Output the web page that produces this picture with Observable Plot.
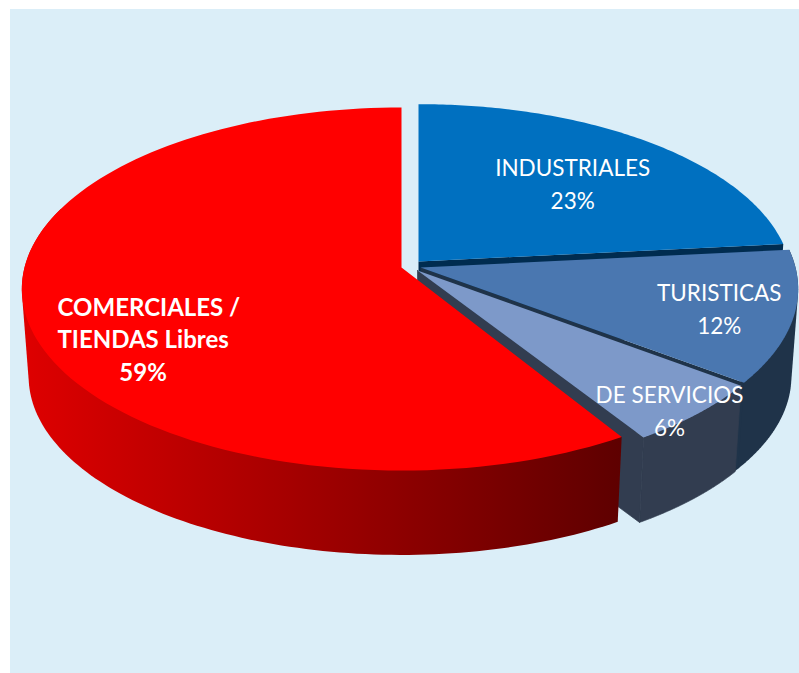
<!DOCTYPE html>
<html>
<head>
<meta charset="utf-8">
<script src="https://cdn.jsdelivr.net/npm/d3@7"></script>
<script src="https://cdn.jsdelivr.net/npm/@observablehq/plot@0.6"></script>
<style>
html,body{margin:0;padding:0;background:#fff}
svg{display:block}
</style>
</head>
<body>
<div id="chart"></div>
<script>
// ---- data, clockwise from twelve o'clock
const categories = ["INDUSTRIALES", "TURISTICAS", "DE SERVICIOS", "COMERCIALES /\nTIENDAS Libres"];
const shares = [23.4, 11.8, 6.0, 58.8];
const faceColors = ["#0070C0", "#4A77B0", "#7D99C9", "#FF0000"];
const wallColors = ["#002C50", "#1F3349", "#323D50", "url(#redWall)"];

// ---- layout of the perspective pie
const width = 799, height = 673;
const apexes = [[418, 261], [420, 267], [417, 270], [401, 267]];
const radiiX = [371, 375, 375, 377];
const radiiY = [176, 179, 179, 179];
const endNudge = [0, 0, -1.2, 0];
const tilt = 0.1185, dropY = 88, dropScale = 0.982;
const labelShift = [0.3, -0.2, 1.4, -14];
const labelRadius = [0.651, 0.805, 0.937, 0.755];
const labelWeight = ["normal", "normal", "normal", "bold"];
const labelSize = [22.5, 22.5, 22.5, 24];
const labelLeading = [1.467, 1.467, 1.467, 1.35];

const rad = Math.PI / 180;
const total = d3.sum(shares);
let acc = 0;
const slices = shares.map((v, i) => {
  const a0 = acc / total * 360; acc += v;
  const a1 = acc / total * 360;
  return {i, a0, a1: a1 + endNudge[i], mid: (a0 + a1) / 2};
});
function project(i, deg, r = 1, bottom = false) {
  const x = Math.sin(deg * rad) * r, z = -Math.cos(deg * rad) * r;
  const w = 1 - tilt * z, s = bottom ? dropScale : 1;
  return [apexes[i][0] + s * radiiX[i] * x / w,
          apexes[i][1] + s * radiiY[i] * z / w + (bottom ? dropY : 0)];
}
const arc = (i, a0, a1, bottom) =>
  d3.range(0, 121).map(t => project(i, a0 + (a1 - a0) * t / 120, 1, bottom));
const face = s => [[apexes[s.i][0], apexes[s.i][1]], ...arc(s.i, s.a0, s.a1, false)];
const cutWall = (i, deg) => [
  project(i, deg, 0), project(i, deg, 1), project(i, deg, 1, true), project(i, deg, 0, true)];
const rimWall = (i, a0, a1) => d3.polygonHull([...arc(i, a0, a1, false), ...arc(i, a0, a1, true)]);

const poly = (pts, fill, stroke = "none") => Plot.line([...pts, pts[0]], {
  x: d => d[0], y: d => d[1], fill, stroke, strokeWidth: 0.7, curve: "linear"
});

const [ind, tur, ser, com] = slices;
const marks = [
  Plot.rect([{x1: 10, x2: width, y1: 9, y2: height}], {x1: "x1", x2: "x2", y1: "y1", y2: "y2", fill: "#DBEEF8"}),
  // Industriales
  poly(cutWall(0, ind.a1), wallColors[0]),
  poly(face(ind), faceColors[0]),
  // Turisticas
  poly(rimWall(1, tur.a0, tur.a1 + 1.5), wallColors[1]),
  poly(cutWall(1, tur.a1), wallColors[1]),
  poly(face(tur), faceColors[1]),
  // De servicios
  poly(rimWall(2, ser.a0, ser.a1), wallColors[2], wallColors[2]),
  poly(cutWall(2, ser.a1), wallColors[2], wallColors[2]),
  poly(face(ser), faceColors[2]),
  // Comerciales
  poly(rimWall(3, com.a0, 290), wallColors[3]),
  poly(face(com), faceColors[3]),
  // labels
  ...slices.map(s => {
    const [x, y] = project(s.i, s.mid + labelShift[s.i], labelRadius[s.i]);
    const name = s.i === 3 ? categories[s.i].replace("COMERCIALES", "\u00a0\u00a0COMERCIALES") : categories[s.i];
    return Plot.text([{x, y, t: name + "\n" + Math.round(shares[s.i]) + "%"}], {
      x: "x", y: "y", text: "t", fill: "#fff", fontSize: labelSize[s.i], lineHeight: labelLeading[s.i],
      fontWeight: labelWeight[s.i], textAnchor: "middle", lineAnchor: "middle", stroke: "none"
    });
  })
];

const plot = Plot.plot({
  width, height, margin: 0,
  x: {domain: [0, width], range: [0, width], axis: null},
  y: {domain: [0, height], range: [0, height], axis: null},
  style: {fontFamily: "Lato, Carlito, sans-serif", background: "transparent"},
  marks
});
const defs = d3.create("svg:defs");
const g = defs.append("linearGradient").attr("id", "redWall")
  .attr("gradientUnits", "userSpaceOnUse")
  .attr("x1", 25).attr("x2", 620).attr("y1", 0).attr("y2", 0);
g.append("stop").attr("offset", 0).attr("stop-color", "#DE0000");
g.append("stop").attr("offset", 1).attr("stop-color", "#5E0000");
plot.insertBefore(defs.node(), plot.firstChild);
document.getElementById("chart").append(plot);
</script>
</body>
</html>
